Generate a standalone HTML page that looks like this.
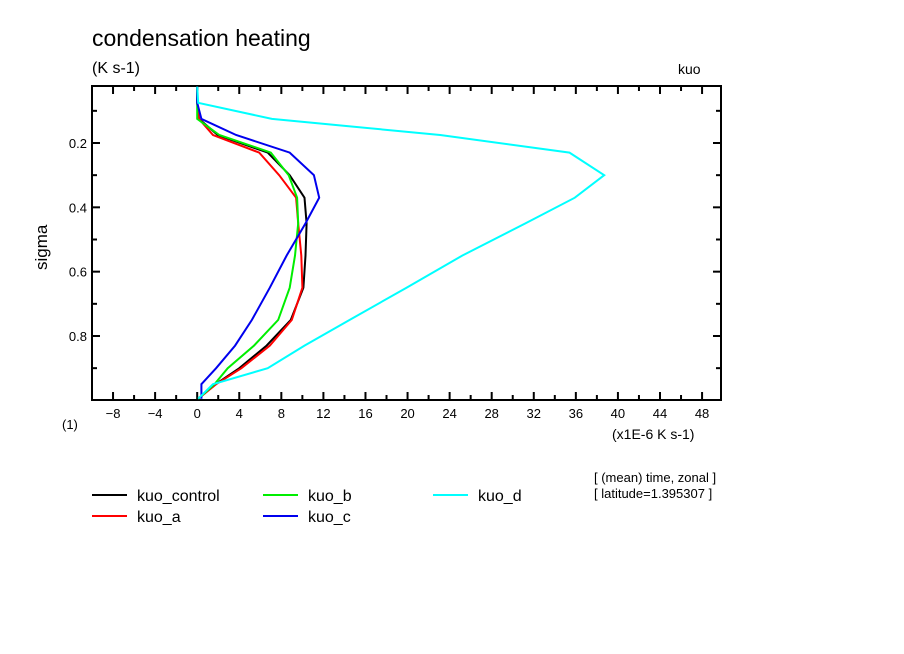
<!DOCTYPE html>
<html><head><meta charset="utf-8"><style>
body{margin:0;background:#fff;}
svg{display:block;font-family:"Liberation Sans",sans-serif;}
</style></head><body>
<svg id="chart" width="904" height="654" viewBox="0 0 904 654">
<rect width="904" height="654" fill="#fff"/>
<text x="92" y="46" font-size="23">condensation heating</text>
<text x="92" y="73" font-size="16">(K s-1)</text>
<text x="678" y="74" font-size="14">kuo</text>
<text x="0" y="0" font-size="17" transform="translate(47,270) rotate(-90)">sigma</text>
<text x="62" y="429" font-size="13">(1)</text>
<text x="612" y="439" font-size="14">(x1E-6 K s-1)</text>
<g id="axes"></g>
<g id="series"></g>
<g id="legend"></g>
<text x="594" y="482" font-size="13">[ (mean) time, zonal ]</text>
<text x="594" y="498" font-size="13">[ latitude=1.395307 ]</text>
</svg>
<script>
const levels = [0.025,0.075,0.125,0.175,0.23,0.3,0.37,0.45,0.55,0.65,0.75,0.83,0.9,0.95,0.995];
const seriesNames = ["kuo_control","kuo_a","kuo_b","kuo_c","kuo_d"];
const seriesColors = ["#000000","#ff0000","#00ee00","#0000ee","#00ffff"];
const kuoControl = [0,0,0.17,1.95,6.7,8.8,10.2,10.4,10.3,10.1,8.9,6.6,4.0,1.75,0.1];
const kuoA = [0,0,0.17,1.5,5.9,7.8,9.4,9.6,9.9,10.0,9.0,6.9,4.2,1.8,0.1];
const kuoB = [0,0,0,2.1,7.0,8.7,9.5,9.6,9.3,8.8,7.7,5.4,2.9,1.65,0.1];
const kuoC = [0,0,0.4,3.7,8.8,11.1,11.6,10.3,8.5,6.9,5.2,3.6,1.8,0.4,0.4];
const kuoD = [0,0.1,7.1,23.1,35.4,38.7,35.9,31.2,25.2,19.9,14.5,10.2,6.7,1.5,0.1];
const xTicks = [-8,-4,0,4,8,12,16,20,24,28,32,36,40,44,48];
const yTicks = [0.2,0.4,0.6,0.8];
const allSeries = [kuoControl,kuoA,kuoB,kuoC,kuoD];

const NS="http://www.w3.org/2000/svg";
const L=92,R=721,T=86,B=400, xMin=-10,xMax=49.8, yMin=0.0228,yMax=0.999;
const xs=v=>L+(v-xMin)/(xMax-xMin)*(R-L);
const ys=v=>T+(v-yMin)/(yMax-yMin)*(B-T);
function mk(tag,attrs,parent){const e=document.createElementNS(NS,tag);for(const k in attrs)e.setAttribute(k,attrs[k]);parent.appendChild(e);return e;}
const axes=document.getElementById('axes');
const frame=mk('rect',{x:L,y:T,width:R-L,height:B-T,fill:'none',stroke:'#000','stroke-width':2},axes);


for(let v=-10;v<=49;v+=2){
  const major=(v%4===0);
  const x=xs(v), len=major?8:5;
  const t1=mk('line',{x1:x,x2:x,y1:B,y2:B-len,stroke:'#000','stroke-width':2},axes);
  
  
  const t2=mk('line',{x1:x,x2:x,y1:T,y2:T+len,stroke:'#000','stroke-width':2},axes);
  
  
}
xTicks.forEach(v=>{
  const t=mk('text',{x:xs(v),y:418,'font-size':13,'text-anchor':'middle'},axes);
  t.textContent=String(v).replace('-','\u2212');
  
  
});
for(let i=1;i<=9;i++){
  const v=i/10, major=(i%2===0), len=major?8:5, y=ys(v);
  const t1=mk('line',{x1:L,x2:L+len,y1:y,y2:y,stroke:'#000','stroke-width':2},axes);
  
  
  const t2=mk('line',{x1:R,x2:R-len,y1:y,y2:y,stroke:'#000','stroke-width':2},axes);
  
  
}
yTicks.forEach(v=>{
  const t=mk('text',{x:87,y:ys(v)+5,'font-size':13,'text-anchor':'end'},axes);
  t.textContent=v.toFixed(1);
  
  
});
const sg=document.getElementById('series');
allSeries.forEach((s,i)=>{
  const pts=s.map((v,j)=>xs(v).toFixed(1)+','+ys(levels[j]).toFixed(1)).join(' ');
  const p=mk('polyline',{points:pts,fill:'none',stroke:seriesColors[i],'stroke-width':2},sg);
  
  
});
const lg=document.getElementById('legend');
const pos=[[92,495],[92,516],[263,495],[263,516],[433,495]];
seriesNames.forEach((n,i)=>{
  const [x,y]=pos[i];
  const l=mk('line',{x1:x,x2:x+35,y1:y,y2:y,stroke:seriesColors[i],'stroke-width':2},lg);
  
  
  const t=mk('text',{x:x+45,y:y+6,'font-size':16},lg);
  t.textContent=n;
  
  
});
</script>
</body></html>
